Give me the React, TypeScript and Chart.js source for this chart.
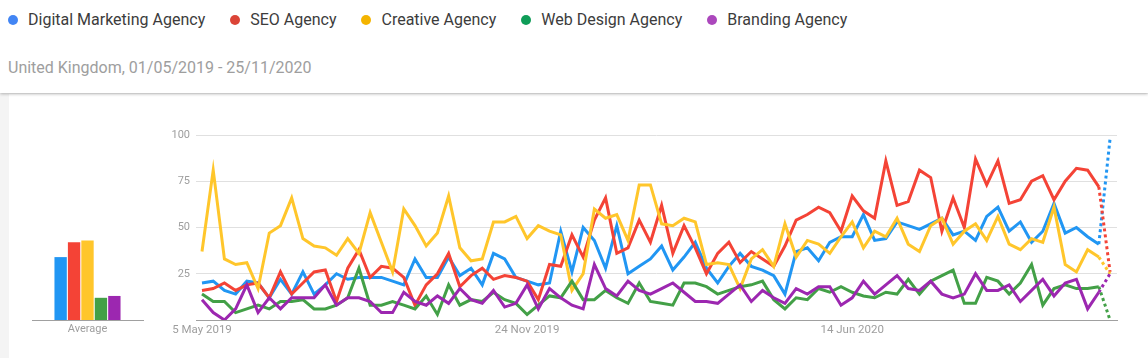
import React, { useEffect, useRef } from 'react';
import { Chart, registerables } from 'chart.js';

Chart.register(...registerables);

const seriesNames = ['Digital Marketing Agency', 'SEO Agency', 'Creative Agency', 'Web Design Agency', 'Branding Agency'];
const lineColors = ['#2196f3', '#f44336', '#ffc62b', '#43a047', '#9c27b0'];
const legendColors = ['#4285f4', '#db4437', '#f4b400', '#0f9d58', '#ab47bc'];

const digitalMarketing = [
  20, 21, 16, 14, 21, 20, 12, 22, 14, 26, 14, 19, 25, 22,
  23, 23, 23, 21, 19, 33, 23, 23, 34, 24, 28, 19, 36, 33,
  23, 21, 19, 20, 48, 26, 50, 43, 28, 51, 25, 29, 33, 40,
  27, 34, 42, 28, 20, 29, 36, 29, 27, 24, 14, 37, 39, 32,
  42, 45, 45, 57, 43, 44, 53, 51, 49, 52, 55, 46, 48, 43,
  56, 61, 48, 53, 42, 48, 63, 47, 50, 45, 41, 98,
];
const seoAgency = [
  16, 17, 20, 16, 19, 20, 12, 26, 14, 20, 26, 27, 10, 28,
  38, 23, 29, 28, 23, 8, 19, 25, 36, 18, 24, 28, 22, 24,
  23, 21, 11, 30, 29, 46, 34, 54, 66, 36, 39, 54, 42, 62,
  36, 51, 39, 25, 36, 42, 31, 37, 33, 29, 40, 54, 57, 61,
  58, 48, 67, 59, 55, 86, 62, 64, 81, 77, 48, 66, 50, 87,
  73, 86, 63, 65, 75, 78, 65, 75, 82, 81, 72, 26,
];
const creativeAgency = [
  37, 81, 33, 30, 31, 17, 47, 51, 66, 44, 40, 39, 35, 44,
  36, 58, 42, 26, 60, 51, 40, 47, 67, 39, 32, 33, 53, 53,
  56, 44, 51, 48, 46, 16, 25, 60, 55, 57, 43, 73, 73, 52,
  51, 55, 53, 30, 31, 30, 17, 33, 38, 29, 52, 34, 43, 41,
  36, 45, 53, 39, 48, 45, 55, 41, 37, 51, 55, 41, 48, 52,
  43, 56, 41, 38, 44, 42, 61, 30, 26, 38, 34, 25,
];
const webDesignAgency = [
  14, 10, 10, 4, 6, 8, 6, 10, 10, 11, 6, 6, 8, 12,
  28, 8, 8, 10, 8, 6, 13, 3, 19, 8, 11, 10, 15, 11,
  9, 3, 8, 13, 12, 21, 11, 11, 16, 12, 9, 20, 10, 9,
  8, 20, 20, 18, 14, 16, 18, 19, 21, 11, 6, 12, 11, 17,
  15, 18, 15, 13, 12, 15, 14, 22, 14, 21, 24, 27, 9, 9,
  23, 21, 14, 20, 30, 8, 17, 19, 17, 17, 18, 0,
];
const brandingAgency = [
  11, 4, 0, 6, 19, 4, 12, 6, 12, 12, 12, 19, 8, 12,
  12, 10, 4, 4, 15, 10, 8, 13, 9, 17, 11, 9, 16, 7,
  9, 19, 6, 17, 12, 8, 6, 30, 17, 13, 21, 16, 14, 17,
  20, 15, 10, 10, 9, 14, 19, 10, 16, 12, 9, 17, 14, 18,
  18, 8, 12, 21, 14, 19, 24, 17, 16, 21, 14, 12, 14, 25,
  16, 16, 19, 10, 16, 22, 13, 20, 22, 6, 15, 25,
];
const series = [digitalMarketing, seoAgency, creativeAgency, webDesignAgency, brandingAgency];

const averages = [34, 42, 43, 12, 13];
const averageLabel = 'Average';

const xTickIndices = [0, 29, 58];
const xTickLabels = ['5 May 2019', '24 Nov 2019', '14 Jun 2020'];
const yTicks = [0, 25, 50, 75, 100];
const subtitle = 'United Kingdom, 01/05/2019 - 25/11/2020';

const tickColor = '#9e9e9e';
const fontFamily = 'Roboto, "Noto Sans", sans-serif';

function LineChart() {
  const ref = useRef<HTMLCanvasElement | null>(null);
  useEffect(() => {
    if (!ref.current) return;
    const chart = new Chart(ref.current, {
      type: 'line',
      data: {
        datasets: series.map((s, k) => ({
          label: seriesNames[k],
          data: s.map((v, i) => ({ x: i, y: v })),
          borderColor: lineColors[k],
          backgroundColor: lineColors[k],
          borderWidth: 3,
          pointRadius: 0,
          tension: 0,
          fill: false,
          order: 5 - k,
          segment: {
            borderDash: (ctx: any) => (ctx.p1DataIndex === s.length - 1 ? [3, 3] : undefined),
          },
        })),
      },
      options: {
        animation: false,
        responsive: false,
        maintainAspectRatio: false,
        layout: { padding: { top: 25, right: 31, left: 0, bottom: 0 } },
        plugins: { legend: { display: false }, tooltip: { enabled: false } },
        scales: {
          x: {
            type: 'linear',
            min: -0.535,
            max: 81.62,
            afterBuildTicks: (s: any) => {
              s.ticks = xTickIndices.map((v) => ({ value: v }));
            },
            afterFit: (s: any) => {
              s.height = 38;
            },
            grid: { display: false, drawTicks: false },
            border: { display: true, color: '#a0a0a0', width: 1 },
            ticks: {
              callback: (v: any) => {
                const idx = xTickIndices.indexOf(Number(v));
                return idx >= 0 ? xTickLabels[idx] : '';
              },
              color: tickColor,
              font: { family: fontFamily, size: 11.5 },
              maxRotation: 0,
              autoSkip: false,
              padding: 3,
            },
          },
          y: {
            min: 0,
            max: 100,
            afterBuildTicks: (s: any) => {
              s.ticks = yTicks.map((v) => ({ value: v }));
            },
            afterFit: (s: any) => {
              s.width = 46;
            },
            grid: {
              color: (ctx: any) => (ctx.tick && ctx.tick.value === 0 ? 'rgba(0,0,0,0)' : '#e0e0e0'),
              drawTicks: false,
              lineWidth: 1,
            },
            border: { display: false },
            ticks: {
              callback: (v: any) => (Number(v) === 0 ? '' : String(v)),
              color: tickColor,
              font: { family: fontFamily, size: 11 },
              padding: 6,
            },
          },
        },
      },
    } as any);
    return () => chart.destroy();
  }, []);
  return (
    <canvas
      ref={ref}
      width={998}
      height={248}
      style={{ position: 'absolute', left: 150, top: 110, width: 998, height: 248 }}
    />
  );
}

function AverageChart() {
  const ref = useRef<HTMLCanvasElement | null>(null);
  useEffect(() => {
    if (!ref.current) return;
    const chart = new Chart(ref.current, {
      type: 'bar',
      data: {
        labels: [averageLabel],
        datasets: averages.map((v, k) => ({
          label: seriesNames[k],
          data: [v],
          backgroundColor: lineColors[k],
          borderWidth: 0,
          barPercentage: 0.92,
          categoryPercentage: 0.605,
        })),
      },
      options: {
        animation: false,
        responsive: false,
        maintainAspectRatio: false,
        layout: { padding: { top: 35, right: 17, left: 32, bottom: 0 } },
        plugins: { legend: { display: false }, tooltip: { enabled: false } },
        scales: {
          x: {
            afterFit: (s: any) => {
              s.height = 38;
            },
            grid: { display: false, drawTicks: false },
            border: { display: true, color: '#a0a0a0', width: 1 },
            ticks: {
              color: tickColor,
              font: { family: fontFamily, size: 11 },
              padding: 3,
            },
          },
          y: { display: false, min: 0, max: 100 },
        },
      },
    } as any);
    return () => chart.destroy();
  }, []);
  return (
    <canvas
      ref={ref}
      width={160}
      height={258}
      style={{ position: 'absolute', left: 0, top: 100, width: 160, height: 258 }}
    />
  );
}

export default function App() {
  return (
    <div
      style={{
        position: 'absolute',
        left: 0,
        top: 0,
        width: 1148,
        height: 358,
        overflow: 'hidden',
        background: '#f4f4f4',
        fontFamily,
      }}
    >
      <div
        style={{
          position: 'absolute',
          left: 9,
          top: 94,
          width: 1139,
          height: 264,
          background: '#ffffff',
        }}
      />
      <div
        style={{
          position: 'absolute',
          left: 0,
          top: 0,
          width: 1148,
          height: 93,
          background: '#ffffff',
          boxShadow: '0 1px 3px rgba(0,0,0,0.28)',
        }}
      >
        <div
          style={{
            position: 'absolute',
            left: 8,
            top: 10,
            height: 20,
            display: 'flex',
            alignItems: 'center',
            whiteSpace: 'nowrap',
          }}
        >
          {seriesNames.map((name, k) => (
            <div key={name} style={{ display: 'flex', alignItems: 'center', marginRight: 25 }}>
              <span
                style={{
                  display: 'inline-block',
                  width: 10,
                  height: 10,
                  borderRadius: '50%',
                  background: legendColors[k],
                  marginRight: 10,
                }}
              />
              <span style={{ fontSize: 16, color: '#3c3c3c', lineHeight: '20px' }}>{name}</span>
            </div>
          ))}
        </div>
        <div
          style={{
            position: 'absolute',
            left: 8,
            top: 58,
            fontSize: 16,
            lineHeight: '20px',
            color: '#9e9e9e',
            whiteSpace: 'nowrap',
          }}
        >
          {subtitle}
        </div>
      </div>
      <AverageChart />
      <LineChart />
    </div>
  );
}
